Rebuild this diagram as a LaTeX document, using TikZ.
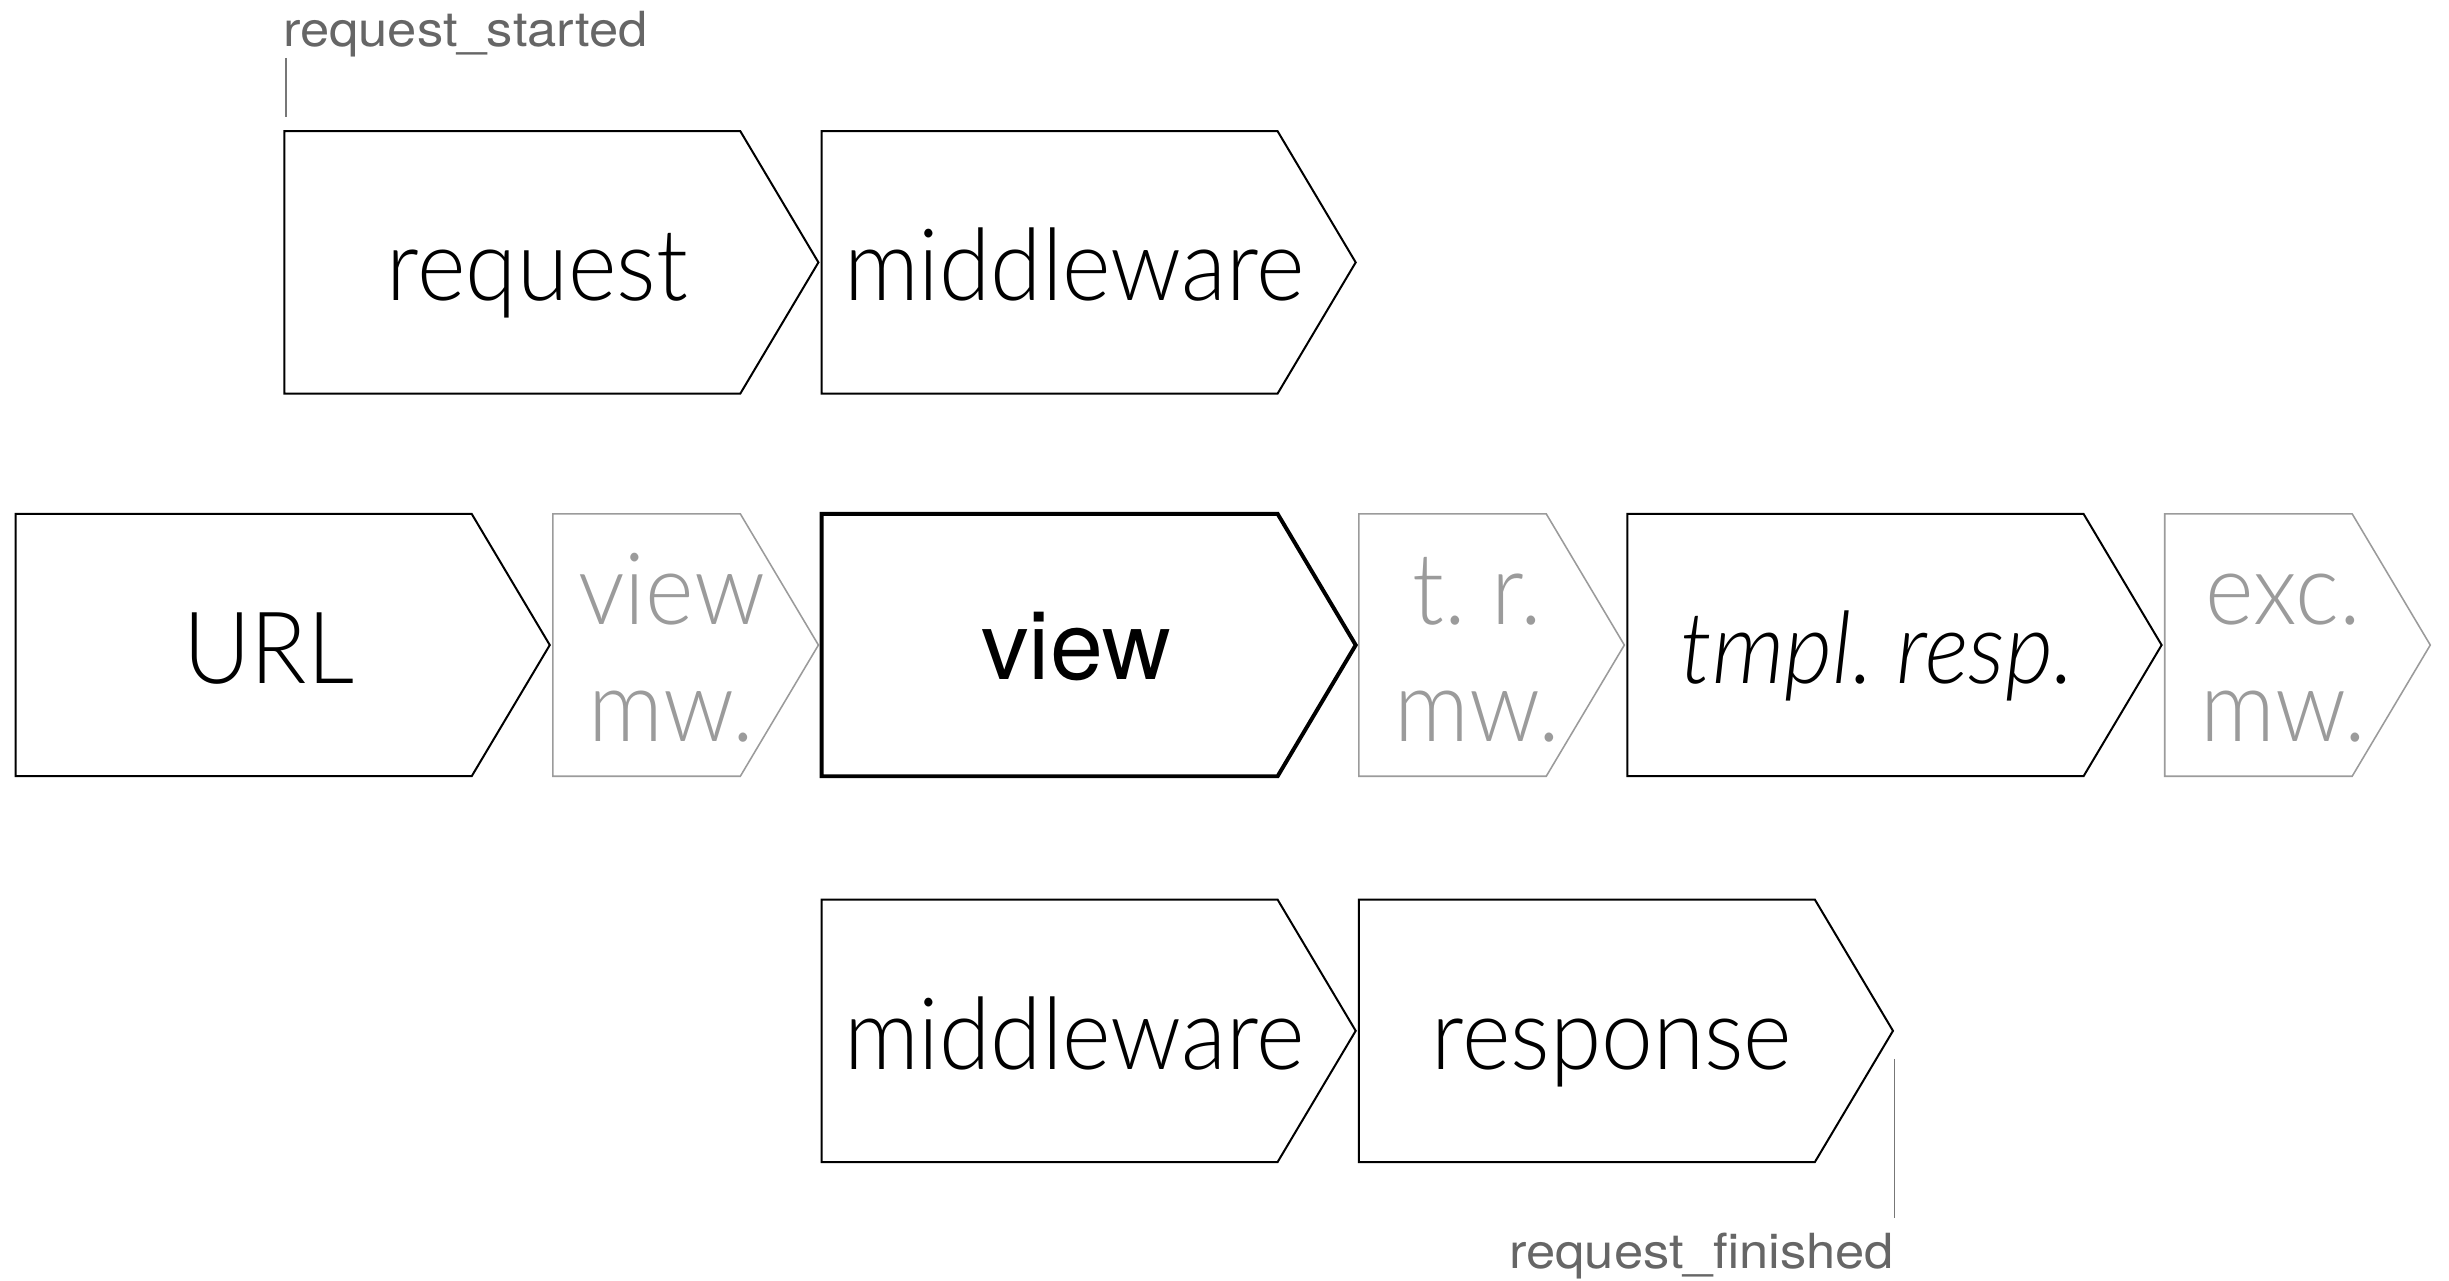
\documentclass[tikz,border=0pt]{standalone}
\usepackage{fontspec}
\setmainfont{TeX Gyre Heros}
\newfontfamily\thinface{Lato}[UprightFont=* Light, ItalicFont=* Light Italic, FakeStretch=0.93]
\newfontfamily\tagface{TeX Gyre Heros}[FakeStretch=1.085]

\begin{document}
\frenchspacing
\begin{tikzpicture}[x=0.75pt,y=0.75pt,yscale=-1,xscale=1,
	stage/.style={draw={rgb, 255:red, 0; green, 0; blue, 0 }, line width=0.96pt},
	mainstage/.style={draw={rgb, 255:red, 0; green, 0; blue, 0 }, line width=1.9pt},
	faintstage/.style={draw={rgb, 255:red, 155; green, 155; blue, 155 }, line width=0.75pt},
	tick/.style={draw={rgb, 255:red, 119; green, 119; blue, 119 }, line width=0.8pt},
	stagetext/.style={anchor=base, inner sep=0pt, font=\thinface\fontsize{48}{56.3}\selectfont},
	viewtext/.style={anchor=base, inner sep=0pt, font=\fontsize{45.75}{55}\selectfont},
	fainttext/.style={stagetext, align=center, text={rgb, 255:red, 155; green, 155; blue, 155 }},
	tagtext/.style={inner sep=0pt, font=\tagface\fontsize{23.25}{28}\selectfont, text={rgb, 255:red, 102; green, 102; blue, 102 }}]
		\useasboundingbox (0,0) rectangle (1568,820);
		
		%Shape: Arrow box, first row
		\draw [stage] (182,84) -- (474,84) -- (524,168) -- (474,252) -- (182,252) -- cycle ;
		\draw [stage] (526,84) -- (818,84) -- (868,168) -- (818,252) -- (526,252) -- cycle ;
		%Shape: Arrow box, second row
		\draw [stage] (10,329) -- (302,329) -- (352,413) -- (302,497) -- (10,497) -- cycle ;
		\draw [faintstage] (354,329) -- (474,329) -- (524,413) -- (474,497) -- (354,497) -- cycle ;
		\draw [mainstage] (526,329) -- (818,329) -- (868,413) -- (818,497) -- (526,497) -- cycle ;
		\draw [faintstage] (870,329) -- (990,329) -- (1040,413) -- (990,497) -- (870,497) -- cycle ;
		\draw [stage] (1042,329) -- (1334,329) -- (1384,413) -- (1334,497) -- (1042,497) -- cycle ;
		\draw [faintstage] (1386,329) -- (1506,329) -- (1556,413) -- (1506,497) -- (1386,497) -- cycle ;
		%Shape: Arrow box, third row
		\draw [stage] (526,576) -- (818,576) -- (868,660) -- (818,744) -- (526,744) -- cycle ;
		\draw [stage] (870,576) -- (1162,576) -- (1212,660) -- (1162,744) -- (870,744) -- cycle ;
		
		% Text Node
		\draw (344,192.5) node [stagetext] (request) {request};
		% Text Node
		\draw (688,192.5) node [stagetext] (mwin) {middleware};
		% Text Node
		\draw (172,437.5) node [stagetext] (url) {URL};
		% Text Node
		\draw (430,474.8) node [fainttext] (viewmw) {view\\mw.};
		% Text Node
		\draw (689,435) node [viewtext] (view) {view};
		% Text Node
		\draw (946,474.8) node [fainttext] (trmw) {t. r.\\mw.};
		% Text Node
		\draw (1202,437.5) node [stagetext] (tmplresp) {\itshape tmpl. resp.};
		% Text Node
		\draw (1462,474.8) node [fainttext] (excmw) {exc.\\mw.};
		% Text Node
		\draw (688,684.5) node [stagetext] (mwout) {middleware};
		% Text Node
		\draw (1032,684.5) node [stagetext] (response) {response};
		
		% Text Node
		\draw (181,30) node [tagtext, anchor=base west] (started) {request\_started};
		% Text Node
		\draw (1213,812) node [tagtext, anchor=base east] (finished) {request\_finished};
		%Straight Lines
		\coordinate (startedtop) at (183,37);
		\coordinate (startedend) at (183,75);
		\draw [tick] (startedtop) -- (startedend) ;
		%Straight Lines
		\coordinate (finishedtop) at (1213,678);
		\coordinate (finishedend) at (1213,780);
		\draw [tick] (finishedtop) -- (finishedend) ;
\end{tikzpicture}
\end{document}
